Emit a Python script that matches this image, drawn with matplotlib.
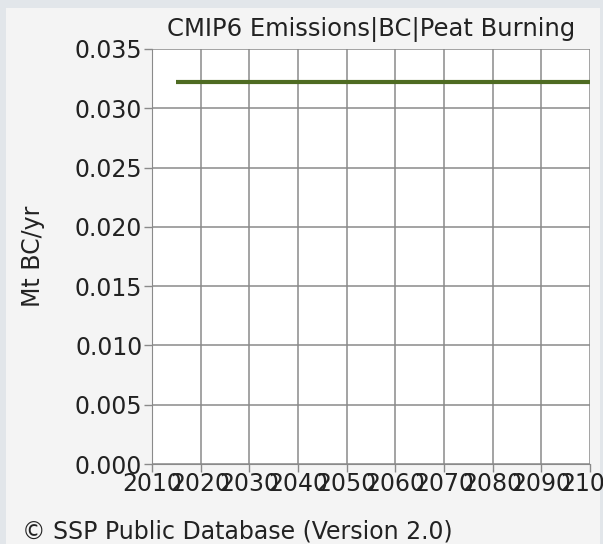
import matplotlib.pyplot as plt
from matplotlib.patches import Rectangle

# data
years = [2015, 2020, 2030, 2040, 2050, 2060, 2070, 2080, 2090, 2100]
peat_bc = [0.0322, 0.0322, 0.0322, 0.0322, 0.0322, 0.0322, 0.0322, 0.0322, 0.0322, 0.0322]

x_ticks = [2010, 2020, 2030, 2040, 2050, 2060, 2070, 2080, 2090, 2100]
y_ticks = [0.000, 0.005, 0.010, 0.015, 0.020, 0.025, 0.030, 0.035]

W, H = 603, 544
fig = plt.figure(figsize=(W / 100, H / 100), dpi=100)
fig.patch.set_facecolor("#e2e6ea")
fig.patches.append(Rectangle((6 / W, 0), 594 / W, 1 - 8 / H, transform=fig.transFigure,
                             facecolor="#f4f4f4", edgecolor="none", zorder=-5))

ax = fig.add_axes([152 / W, 1 - 464 / H, (590 - 152) / W, (464 - 49) / H])
ax.set_zorder(2)
ax.set_facecolor("white")
ax.plot(years, peat_bc, color="#4e6b22", linewidth=3, solid_capstyle="butt", clip_on=False, zorder=3)

ax.set_xlim(2010, 2100)
ax.set_ylim(0, 0.035)
ax.set_xticks(x_ticks)
ax.set_yticks(y_ticks)
ax.set_xticklabels([str(t) for t in x_ticks])
ax.set_yticklabels([f"{t:.3f}" for t in y_ticks])
ax.grid(True, color="#8a8a8a", linewidth=1.1)
ax.set_axisbelow(True)

for s in ["top", "right"]:
    ax.spines[s].set_visible(False)
for s in ["left", "bottom"]:
    ax.spines[s].set_color("#8a8a8a")

ax.tick_params(axis="both", colors="#8a8a8a", labelcolor="#222222", labelsize=17, length=6, width=1)
ax.tick_params(axis="x", pad=0)
ax.tick_params(axis="y", pad=1)

ax.set_ylabel("Mt BC/yr", fontsize=17, color="#222222")
ax.yaxis.set_label_coords(-0.245, 0.5)
ax.set_title("CMIP6 Emissions|BC|Peat Burning", fontsize=17.5, color="#222222", pad=9.5)

fig.text(22 / W, 1 - 538 / H, "© SSP Public Database (Version 2.0)", fontsize=17,
         color="#222222", va="baseline", ha="left")

fig.savefig("out.png", dpi=100, facecolor=fig.get_facecolor())
